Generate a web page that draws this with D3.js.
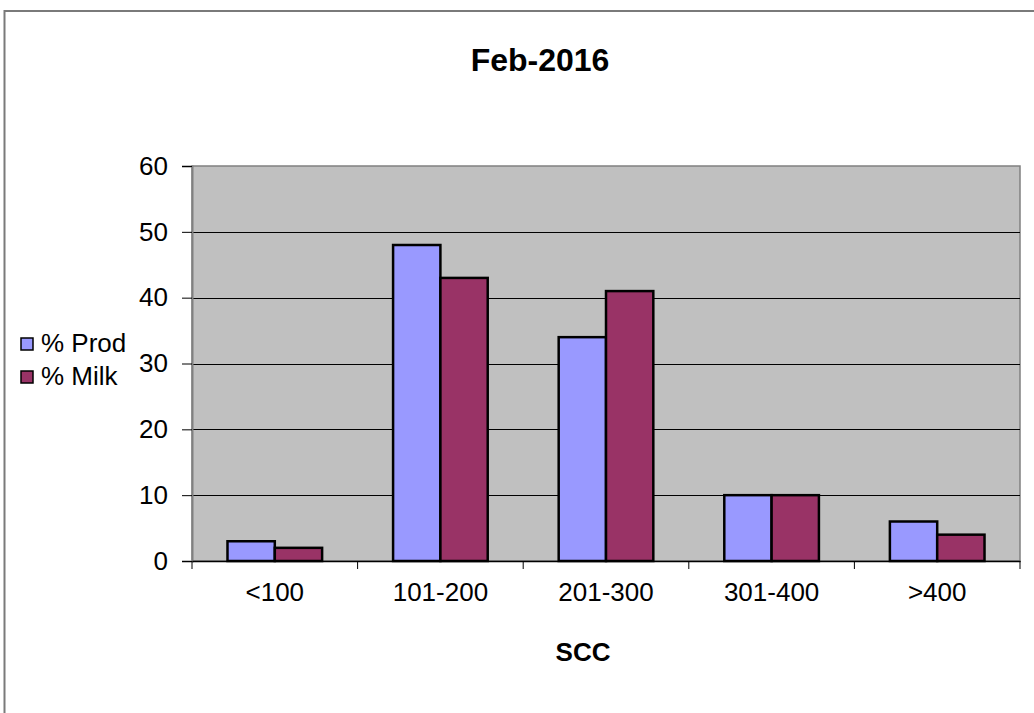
<!DOCTYPE html>
<html>
<head>
  <meta charset="utf-8">
  <script src="https://d3js.org/d3.v7.min.js"></script>
  <style>
    body { margin: 0; background: #fff; }
    text { font-family: "Liberation Sans", Arial, sans-serif; fill: #000; }
  </style>
</head>
<body>
<script>
  // chart data
  var categories = ["<100", "101-200", "201-300", "301-400", ">400"];
  var seriesNames = ["% Prod", "% Milk"];
  var prodValues = [3, 48, 34, 10, 6];
  var milkValues = [2, 43, 41, 10, 4];
  var yTicks = [0, 10, 20, 30, 40, 50, 60];
  var colors = ["#9999FF", "#993366"];

  var width = 1034, height = 713;
  var plot = {left: 192, top: 166, right: 1020, bottom: 561};

  var svg = d3.select("body").append("svg")
      .attr("width", width)
      .attr("height", height);

  // outer chart frame (only top and left edges are visible)
  svg.append("rect")
      .attr("x", 4.5).attr("y", 11)
      .attr("width", 1100).attr("height", 800)
      .attr("fill", "#fff")
      .attr("stroke", "#7a7a7a")
      .attr("stroke-width", 2);

  var x0 = d3.scaleBand()
      .domain(categories)
      .range([plot.left, plot.right]);

  // Excel-style 150% gap width: group = 2 bars, gap = 1.5 bars
  var barW = x0.bandwidth() / 3.5;
  var x1 = d3.scaleBand()
      .domain(seriesNames)
      .range([0, barW * 2]);

  var y = d3.scaleLinear()
      .domain([0, 60])
      .range([plot.bottom, plot.top]);

  // plot area
  svg.append("rect")
      .attr("x", plot.left).attr("y", plot.top)
      .attr("width", plot.right - plot.left)
      .attr("height", plot.bottom - plot.top)
      .attr("fill", "#c0c0c0")
      .attr("stroke", "#808080")
      .attr("stroke-width", 1.5);

  // gridlines
  svg.append("g").selectAll("line")
      .data(yTicks.filter(function(d) { return d > 0 && d < 60; }))
      .join("line")
      .attr("x1", plot.left).attr("x2", plot.right)
      .attr("y1", function(d) { return Math.round(y(d)) + 0.5; })
      .attr("y2", function(d) { return Math.round(y(d)) + 0.5; })
      .attr("stroke", "#000")
      .attr("stroke-width", 1);

  // bars
  var data = categories.map(function(c, i) {
    return {cat: c, vals: [prodValues[i], milkValues[i]]};
  });

  svg.append("g").selectAll("g")
      .data(data)
      .join("g")
      .attr("transform", function(d) {
        return "translate(" + (x0(d.cat) + (x0.bandwidth() - barW * 2) / 2) + ",0)";
      })
      .selectAll("rect")
      .data(function(d) { return d.vals.map(function(v, j) { return {v: v, s: seriesNames[j], j: j}; }); })
      .join("rect")
      .attr("x", function(d) { return x1(d.s); })
      .attr("y", function(d) { return y(d.v); })
      .attr("width", x1.bandwidth())
      .attr("height", function(d) { return y(0) - y(d.v); })
      .attr("fill", function(d) { return colors[d.j]; })
      .attr("stroke", "#000")
      .attr("stroke-width", 2.5);

  // y axis
  var yAxis = d3.axisLeft(y)
      .tickValues(yTicks)
      .tickSize(10)
      .tickPadding(14);
  var gy = svg.append("g")
      .attr("transform", "translate(" + plot.left + ",0)")
      .call(yAxis);
  gy.select(".domain").attr("stroke", "#808080").attr("stroke-width", 2);
  gy.selectAll(".tick line").attr("stroke", "#000");
  gy.selectAll(".tick text")
      .style("font-size", "26px")
      .attr("fill", "#000");

  // x axis
  var xAxis = d3.axisBottom(x0)
      .tickSize(0)
      .tickPadding(22);
  var gx = svg.append("g")
      .attr("transform", "translate(0," + plot.bottom + ")")
      .call(xAxis);
  gx.select(".domain").attr("stroke", "#000").attr("stroke-width", 1.5);
  gx.selectAll(".tick text")
      .style("font-size", "26px")
      .attr("fill", "#000");

  // category separator ticks on x axis
  svg.append("g").selectAll("line")
      .data(categories.concat(["end"]))
      .join("line")
      .attr("x1", function(d, i) { return plot.left + i * x0.bandwidth(); })
      .attr("x2", function(d, i) { return plot.left + i * x0.bandwidth(); })
      .attr("y1", plot.bottom)
      .attr("y2", plot.bottom + 8)
      .attr("stroke", "#000")
      .attr("stroke-width", 1);

  // title
  svg.append("text")
      .attr("x", 540).attr("y", 71)
      .attr("text-anchor", "middle")
      .style("font-size", "32px")
      .style("font-weight", "bold")
      .text("Feb-2016");

  // x axis title
  svg.append("text")
      .attr("x", 583).attr("y", 661)
      .attr("text-anchor", "middle")
      .style("font-size", "26px")
      .style("font-weight", "bold")
      .text("SCC");

  // legend
  var legend = svg.append("g").selectAll("g")
      .data(seriesNames)
      .join("g")
      .attr("transform", function(d, i) { return "translate(21," + (338 + i * 33) + ")"; });
  legend.append("rect")
      .attr("width", 12).attr("height", 12)
      .attr("fill", function(d, i) { return colors[i]; })
      .attr("stroke", "#000")
      .attr("stroke-width", 1.5);
  legend.append("text")
      .attr("x", 20).attr("y", 14)
      .style("font-size", "26px")
      .text(function(d) { return d; });
</script>
</body>
</html>
